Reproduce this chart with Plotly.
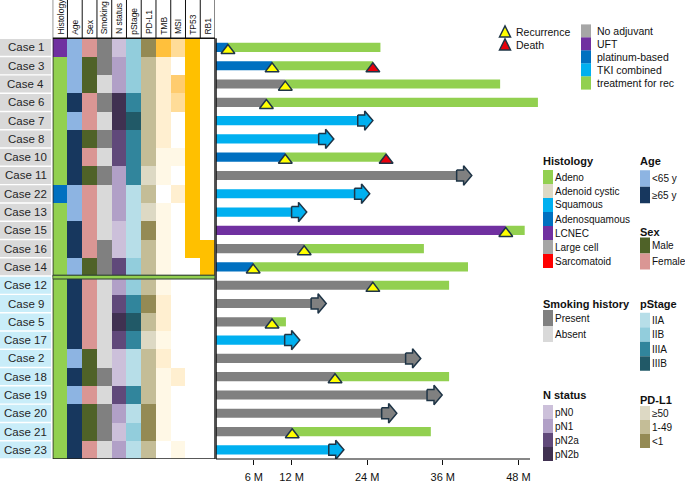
import plotly.graph_objects as go

W, H = 685, 483
FONT = "Liberation Sans, Arial, sans-serif"


def px(x):
    return x / W


def py(y):
    return 1 - y / H


# ---------------- data ----------------
cases = ["Case 1", "Case 3", "Case 4", "Case 6", "Case 7", "Case 8", "Case 10", "Case 11",
         "Case 22", "Case 13", "Case 15", "Case 16", "Case 14",
         "Case 12", "Case 9", "Case 5", "Case 17", "Case 2", "Case 18", "Case 19",
         "Case 20", "Case 21", "Case 23"]
group = [1] * 13 + [2] * 10

columns = ["Histology", "Age", "Sex", "Smoking", "N status", "pStage", "PD-L1",
           "TMB", "MSI", "TP53", "RB1"]

histology = ["LCNEC", "Adeno", "Adeno", "Adeno", "Adeno", "Adeno", "Adeno", "Adeno",
             "Adenosquamous", "Adeno", "Adeno", "Adeno", "Adeno"] + ["Adeno"] * 10
age = ["<65 y", "<65 y", "<65 y", "≥65 y", "<65 y", "≥65 y", "≥65 y", "≥65 y", "<65 y",
       "<65 y", "≥65 y", "≥65 y", "<65 y",
       "≥65 y", "≥65 y", "≥65 y", "≥65 y", "<65 y", "≥65 y", "<65 y", "≥65 y", "≥65 y", "≥65 y"]
sex = ["Female", "Male", "Male", "Female", "Female", "Male", "Female", "Male", "Female",
       "Female", "Female", "Female", "Male",
       "Female", "Female", "Female", "Female", "Male", "Male", "Female", "Male", "Male", "Female"]
smoking = ["Present", "Present", "Absent", "Present", "Absent", "Present", "Absent", "Present",
           "Absent", "Absent", "Absent", "Present", "Present",
           "Absent", "Absent", "Absent", "Absent", "Absent", "Present", "Absent", "Present",
           "Present", "Absent"]
n_status = ["pN0", "pN1", "pN1", "pN2b", "pN2b", "pN2a", "pN2a", "pN1", "pN1", "pN1", "pN0",
            "pN0", "pN2a",
            "pN1", "pN2a", "pN2b", "pN2a", "pN0", "pN0", "pN2a", "pN1", "pN0", "pN1"]
pstage = ["IIB", "IIB", "IIB", "IIIA", "IIIB", "IIIA", "IIIA", "IIIA", "IIA", "IIA", "IIA",
          "IIA", "IIB",
          "IIB", "IIIA", "IIIB", "IIIA", "IIA", "IIA", "IIIA", "IIA", "IIB", "IIA"]
pdl1 = ["<1", "1-49", "1-49", "1-49", "1-49", "1-49", "1-49", "≥50", "1-49", "≥50", "<1",
        "1-49", "1-49",
        "1-49", "<1", "1-49", "≥50", "1-49", "1-49", "1-49", "<1", "<1", "1-49"]
# shade levels (0 = none ... 5 = highest)
tmb = [5, 2, 2, 2, 2, 2, 1, 1, 0, 1, 1, 1, 1,
       1, 2, 2, 1, 2, 1, 1, 1, 1, 0]
msi = [3, 0, 4, 3, 0, 0, 1, 0, 2, 0, 0, 0, 0,
       0, 0, 0, 0, 0, 2, 0, 0, 0, 1]
tp53 = [1] * 12 + [0] + [0] * 10
rb1 = [0] * 11 + [1, 1] + [0] * 10

# swimmer data (months)
adjuvant = ["platinum-based", "platinum-based", "No adjuvant", "No adjuvant", "TKI combined",
            "TKI combined", "platinum-based", "No adjuvant", "TKI combined", "TKI combined",
            "UFT", "No adjuvant", "platinum-based",
            "No adjuvant", "No adjuvant", "No adjuvant", "TKI combined", "No adjuvant",
            "No adjuvant", "No adjuvant", "No adjuvant", "No adjuvant", "TKI combined"]
recurrence_month = [1.9, 8.9, 11.0, 8.0, None, None, 11.0, None, None, None, 46.0, 14.0, 5.9,
                    24.9, None, 8.9, None, None, 18.9, None, None, 12.1, None]
last_month = [26.1, 24.9, 45.1, 51.1, 24.9, 18.7, 27.0, 40.6, 24.4, 14.4, 49.0, 33.0, 40.0,
              37.0, 17.5, 11.1, 13.3, 32.5, 37.0, 35.9, 28.7, 34.1, 20.3]
death = [False, True, False, False, False, False, True, False, False, False, False, False, False,
         False, False, False, False, False, False, False, False, False, False]

x_ticks = [6, 12, 24, 36, 48]
x_ticktext = ["6 M", "12 M", "24 M", "36 M", "48 M"]

# ---------------- palettes ----------------
palettes = {
    "Histology": {"Adeno": "#92D050", "Adenoid cystic": "#DDD9C4", "Squamous": "#00B0F0",
                  "Adenosquamous": "#0070C0", "LCNEC": "#7030A0", "Large cell": "#A6A6A6",
                  "Sarcomatoid": "#FF0000"},
    "Age": {"<65 y": "#8DB4E2", "≥65 y": "#17375E"},
    "Sex": {"Male": "#4F6228", "Female": "#DA9694"},
    "Smoking": {"Present": "#808080", "Absent": "#D9D9D9"},
    "N status": {"pN0": "#CCC0DA", "pN1": "#B1A0C7", "pN2a": "#60497A", "pN2b": "#403151"},
    "pStage": {"IIA": "#B7DEE8", "IIB": "#92CDDC", "IIIA": "#31859C", "IIIB": "#215967"},
    "PD-L1": {"≥50": "#DDD9C4", "1-49": "#C4BD97", "<1": "#948A54"},
    "TMB": {0: "#FFFFFF", 1: "#FFF8E6", 2: "#FFEFD0", 3: "#FFDC98", 4: "#FFCC6E", 5: "#FFC03C"},
    "TP53": {0: "#FFFFFF", 1: "#FFC000"},
}
palettes["MSI"] = palettes["TMB"]
palettes["RB1"] = palettes["TP53"]

col_data = [histology, age, sex, smoking, n_status, pstage, pdl1, tmb, msi, tp53, rb1]

treat_colors = {"No adjuvant": "#808080", "UFT": "#7030A0", "platinum-based": "#0070C0",
                "TKI combined": "#00B0F0", "treatment for rec": "#92D050"}
OUTLINE = "#1E3446"

# ---------------- heatmap ----------------
color_list = []
z = []
for i in range(len(cases)):
    row = []
    for j, col in enumerate(columns):
        c = palettes[col][col_data[j][i]]
        if c not in color_list:
            color_list.append(c)
        row.append(color_list.index(c) + 0.5)
    z.append(row)
n = len(color_list)
cscale = []
for k, c in enumerate(color_list):
    cscale.append([k / n, c])
    cscale.append([(k + 1) / n, c])

fig = go.Figure()
fig.add_trace(go.Heatmap(z=z, x=list(range(len(columns))), y=list(range(len(cases))),
                         colorscale=cscale, zmin=0, zmax=n, showscale=False,
                         hoverinfo="skip", xaxis="x", yaxis="y"))

# ---------------- swimmer bars ----------------
ARROW_BODY = 2.4
ARROW_HEAD = 1.3
rows = list(range(len(cases)))
first_len, first_col = [], []
for i in rows:
    if recurrence_month[i] is not None:
        first_len.append(recurrence_month[i])
    else:
        first_len.append(last_month[i] - ARROW_BODY + 0.1)
    first_col.append(treat_colors[adjuvant[i]])
fig.add_trace(go.Bar(orientation="h", y=rows, x=first_len, base=[0] * len(rows), width=0.5,
                     marker=dict(color=first_col, line=dict(width=0)),
                     xaxis="x2", yaxis="y", showlegend=False, hoverinfo="skip"))

rec_rows = [i for i in rows if recurrence_month[i] is not None]
fig.add_trace(go.Bar(orientation="h", y=rec_rows,
                     x=[last_month[i] - recurrence_month[i] for i in rec_rows],
                     base=[recurrence_month[i] for i in rec_rows], width=0.5,
                     marker=dict(color=treat_colors["treatment for rec"], line=dict(width=0)),
                     xaxis="x2", yaxis="y", showlegend=False, hoverinfo="skip"))

# arrows for ongoing (no recurrence) cases
for i in rows:
    if recurrence_month[i] is None:
        t = last_month[i]
        xs = [t - ARROW_BODY, t - ARROW_HEAD, t - ARROW_HEAD, t, t - ARROW_HEAD,
              t - ARROW_HEAD, t - ARROW_BODY, t - ARROW_BODY]
        ys = [i - 0.3, i - 0.3, i - 0.53, i, i + 0.53, i + 0.3, i + 0.3, i - 0.3]
        fig.add_trace(go.Scatter(x=xs, y=ys, mode="lines", fill="toself",
                                 fillcolor=treat_colors[adjuvant[i]],
                                 line=dict(color=OUTLINE, width=1.5),
                                 xaxis="x2", yaxis="y", showlegend=False, hoverinfo="skip"))

# recurrence / death markers
fig.add_trace(go.Scatter(x=[recurrence_month[i] for i in rec_rows],
                         y=[i + 0.17 for i in rec_rows], mode="markers",
                         marker=dict(symbol="triangle-up", size=12, color="#FFFF00",
                                     line=dict(color=OUTLINE, width=1.5)),
                         xaxis="x2", yaxis="y", showlegend=False, hoverinfo="skip"))
death_rows = [i for i in rows if death[i]]
fig.add_trace(go.Scatter(x=[last_month[i] for i in death_rows],
                         y=[i + 0.17 for i in death_rows], mode="markers",
                         marker=dict(symbol="triangle-up", size=12, color="#E8000B",
                                     line=dict(color=OUTLINE, width=1.5)),
                         xaxis="x2", yaxis="y", showlegend=False, hoverinfo="skip"))

# ---------------- layout ----------------
SW_LEFT, SW_RIGHT = 216, 545
PX_PER_M = 6.3
Y_TOP, Y_BOT = 38.3, 459

shapes = []
annotations = []

# case label boxes
for i, name in enumerate(cases):
    shapes.append(dict(type="rect", xref="paper", yref="y", x0=0, x1=px(51),
                       y0=i - 0.46, y1=i + 0.46, line=dict(width=0),
                       fillcolor="#D9D9D9" if group[i] == 1 else "#C9EDF9", layer="below"))
    annotations.append(dict(x=px(25.5), y=i, xref="paper", yref="y", text=name,
                            showarrow=False, xanchor="center", yanchor="middle",
                            font=dict(size=11.5, color="#262626", family=FONT)))

# heatmap borders
ncol = len(columns)
shapes.append(dict(type="rect", xref="x", yref="y", x0=-0.5, x1=ncol - 0.5, y0=-0.5, y1=12.5,
                   line=dict(color="#222222", width=1.5)))
shapes.append(dict(type="rect", xref="x", yref="y", x0=-0.5, x1=ncol - 0.5, y0=12.5, y1=22.5,
                   line=dict(color="#222222", width=1.5)))
shapes.append(dict(type="rect", xref="x", yref="y", x0=-0.5, x1=ncol - 0.5, y0=12.45, y1=12.66,
                   fillcolor="#92D050", line=dict(color="#2B3B33", width=1)))

# header
for j in range(ncol + 1):
    shapes.append(dict(type="line", xref="x", yref="paper", x0=j - 0.5, x1=j - 0.5,
                       y0=py(Y_TOP), y1=1, line=dict(color="#111111", width=1)))
shapes.append(dict(type="line", xref="x", yref="paper", x0=-0.5, x1=ncol - 0.5,
                   y0=py(Y_TOP), y1=py(Y_TOP), line=dict(color="#111111", width=1.5)))
for j, col in enumerate(columns):
    annotations.append(dict(x=j, y=py(36.5), xref="x", yref="paper", text=col, textangle=-90,
                            showarrow=False, xanchor="center", yanchor="bottom",
                            font=dict(size=8.5, color="#111111", family=FONT)))

# swimmer axes lines
shapes.append(dict(type="line", xref="paper", yref="paper", x0=px(SW_LEFT), x1=px(SW_LEFT),
                   y0=py(Y_TOP), y1=py(Y_BOT), line=dict(color="#111111", width=1.5)))
shapes.append(dict(type="line", xref="x2", yref="paper", x0=0, x1=(530 - SW_LEFT) / PX_PER_M,
                   y0=py(Y_BOT), y1=py(Y_BOT), line=dict(color="#111111", width=1.2)))


# ---------------- legends ----------------
def tri(cx, cy, color):
    pts = [(cx - 5.5, cy + 5), (cx, cy - 6), (cx + 5.5, cy + 5)]
    path = "M " + " L ".join(f"{px(a)},{py(b)}" for a, b in pts) + " Z"
    shapes.append(dict(type="path", xref="paper", yref="paper", path=path, fillcolor=color,
                       line=dict(color=OUTLINE, width=1.5)))


def text(x, y, s, size=11, bold=False):
    annotations.append(dict(x=px(x), y=py(y), xref="paper", yref="paper",
                            text=f"<b>{s}</b>" if bold else s, showarrow=False,
                            xanchor="left", yanchor="middle",
                            font=dict(size=size, color="#111111", family=FONT)))


def swatch(x0, x1, yc, h, color):
    shapes.append(dict(type="rect", xref="paper", yref="paper", x0=px(x0), x1=px(x1),
                       y0=py(yc + h / 2), y1=py(yc - h / 2), fillcolor=color,
                       line=dict(width=0)))


tri(505, 32, "#FFFF00")
text(514, 32, "Recurrence", size=10.5)
tri(505, 45, "#E8000B")
text(514, 45, "Death", size=10.5)

for k, (name, c) in enumerate([("No adjuvant", "#A6A6A6"), ("UFT", "#7030A0"),
                               ("platinum-based", "#0070C0"), ("TKI combined", "#00B0F0"),
                               ("treatment for rec", "#92D050")]):
    yc = 31 + 13 * k
    swatch(581, 591, yc, 13.2, c)
    text(595, yc, name, size=10.5)


def block(title, x, ty, items, pal, y0, step, h, size=10):
    text(x - 2, ty, title, size=11, bold=True)
    for k, it in enumerate(items):
        yc = y0 + step * k
        swatch(x, x + 10, yc, h, pal[it])
        text(x + 10, yc, it, size=size)


block("Histology", 543, 161, list(palettes["Histology"].keys()), palettes["Histology"],
      177, 14, 14)
block("Age", 640, 161, ["<65 y", "≥65 y"], palettes["Age"], 178.5, 16.5, 16.5)
block("Sex", 640, 232, ["Male", "Female"], palettes["Sex"], 245.5, 16, 16)
block("Smoking history", 543, 304, ["Present", "Absent"], palettes["Smoking"], 318, 16, 16)
block("pStage", 640, 304, ["IIA", "IIB", "IIIA", "IIIB"], palettes["pStage"], 320, 14.5, 14.5)
block("N status", 543, 395, ["pN0", "pN1", "pN2a", "pN2b"], palettes["N status"], 412, 14, 14)
block("PD-L1", 640, 400, ["≥50", "1-49", "<1"], palettes["PD-L1"], 413, 14, 14)

fig.update_layout(
    width=W, height=H, margin=dict(l=0, r=0, t=0, b=0, autoexpand=False),
    paper_bgcolor="white", plot_bgcolor="rgba(0,0,0,0)",
    showlegend=False, barmode="overlay",
    font=dict(family=FONT, color="#111111"),
    xaxis=dict(domain=[px(52.7), px(215)], range=[-0.5, ncol - 0.5], visible=False,
               fixedrange=True),
    yaxis=dict(domain=[py(Y_BOT), py(Y_TOP)], range=[len(cases) - 0.5, -0.5], visible=False,
               fixedrange=True),
    xaxis2=dict(domain=[px(SW_LEFT), px(SW_RIGHT)],
                range=[0, (SW_RIGHT - SW_LEFT) / PX_PER_M], anchor="y",
                showgrid=False, zeroline=False, showline=False, automargin=False,
                tickvals=x_ticks, ticktext=x_ticktext, ticks="outside", ticklen=5,
                tickwidth=1, tickcolor="#111111", ticklabelstandoff=3,
                tickfont=dict(size=11, color="#111111", family=FONT), fixedrange=True),
    shapes=shapes, annotations=annotations,
)

fig.write_html("out.html", config={"displayModeBar": False},
               post_script="document.body.style.margin='0px';")
